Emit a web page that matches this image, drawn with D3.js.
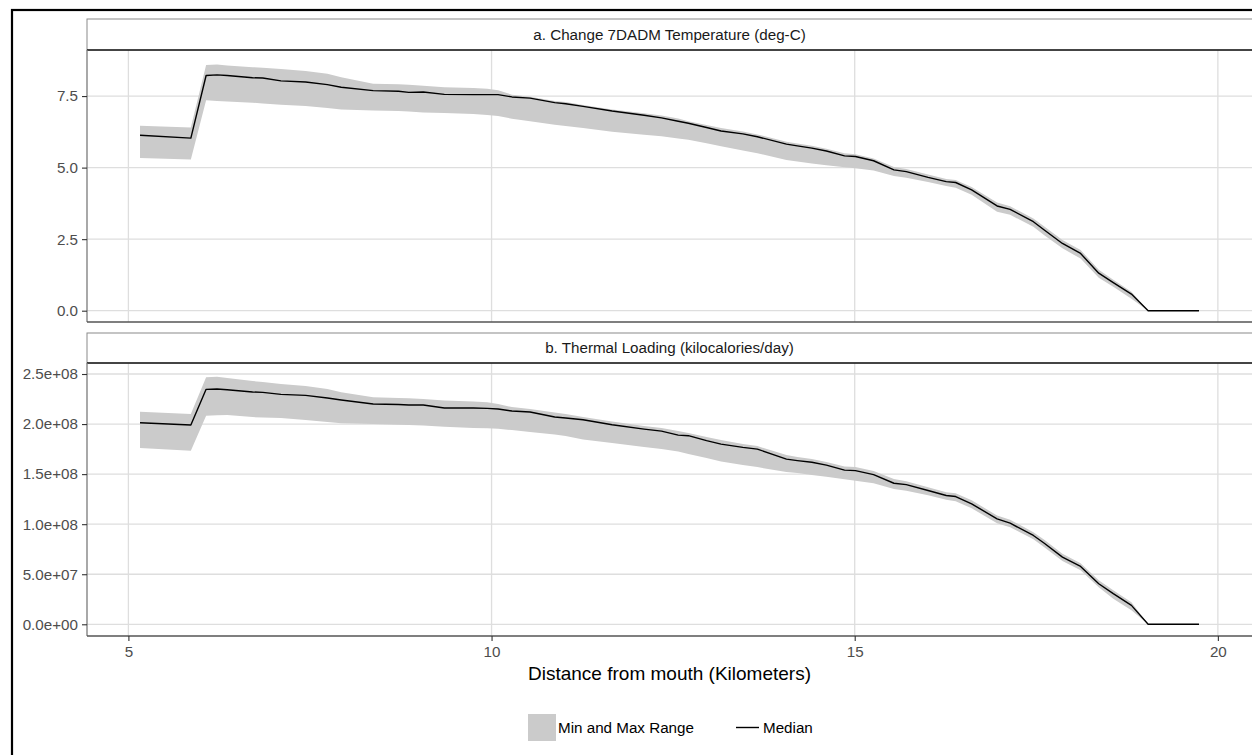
<!DOCTYPE html>
<html>
<head>
<meta charset="utf-8">
<script src="https://cdn.jsdelivr.net/npm/d3@7"></script>
<style>
  html, body { margin: 0; padding: 0; background: #fff; }
  svg { display: block; font-family: "Liberation Sans", Arial, sans-serif; }
</style>
</head>
<body>
<svg id="chart" width="1252" height="755"></svg>
<script>
// Distance from the river mouth (km) at each sampled reach
const distanceKm = [5.16, 5.86, 6.07, 6.22, 6.36, 6.71, 6.85, 7.10, 7.44, 7.74, 7.93, 8.37, 8.72, 8.86, 9.06, 9.35, 9.75, 9.94, 10.09, 10.28, 10.53, 10.87, 11.02, 11.26, 11.66, 12.10, 12.34, 12.57, 12.71, 12.96, 13.16, 13.46, 13.66, 14.06, 14.21, 14.41, 14.61, 14.86, 15.01, 15.26, 15.54, 15.71, 16.01, 16.26, 16.39, 16.61, 16.96, 17.14, 17.46, 17.61, 17.86, 18.11, 18.36, 18.56, 18.81, 19.04, 19.74];

// a. Change in 7DADM temperature (deg-C)
const tempMedian = [6.13, 6.03, 8.22, 8.24, 8.22, 8.14, 8.13, 8.03, 7.99, 7.90, 7.81, 7.69, 7.67, 7.63, 7.64, 7.56, 7.55, 7.55, 7.55, 7.47, 7.43, 7.27, 7.23, 7.14, 6.98, 6.83, 6.74, 6.62, 6.55, 6.40, 6.28, 6.18, 6.08, 5.82, 5.76, 5.68, 5.58, 5.41, 5.39, 5.24, 4.92, 4.86, 4.66, 4.51, 4.48, 4.22, 3.66, 3.54, 3.11, 2.82, 2.35, 2.00, 1.31, 0.98, 0.58, 0, 0];
const tempMax = [6.46, 6.40, 8.59, 8.60, 8.57, 8.51, 8.49, 8.45, 8.38, 8.28, 8.16, 7.93, 7.91, 7.90, 7.86, 7.81, 7.78, 7.76, 7.70, 7.55, 7.48, 7.33, 7.29, 7.19, 7.03, 6.90, 6.82, 6.72, 6.62, 6.49, 6.38, 6.26, 6.16, 5.90, 5.84, 5.76, 5.66, 5.50, 5.47, 5.32, 5.02, 4.95, 4.76, 4.60, 4.57, 4.32, 3.78, 3.65, 3.22, 2.94, 2.47, 2.12, 1.43, 1.08, 0.66, 0, 0];
const tempMin = [5.34, 5.28, 7.35, 7.33, 7.31, 7.27, 7.24, 7.20, 7.15, 7.08, 7.03, 7.00, 6.98, 6.96, 6.93, 6.91, 6.87, 6.84, 6.80, 6.71, 6.62, 6.50, 6.45, 6.38, 6.25, 6.15, 6.10, 6.02, 5.97, 5.85, 5.75, 5.60, 5.50, 5.27, 5.21, 5.14, 5.08, 5.01, 4.98, 4.90, 4.71, 4.65, 4.50, 4.36, 4.30, 4.05, 3.46, 3.35, 2.93, 2.64, 2.18, 1.82, 1.15, 0.84, 0.42, 0, 0];

// b. Thermal loading (kilocalories/day)
const loadMedian = [2.013e8, 1.99e8, 2.347e8, 2.35e8, 2.343e8, 2.32e8, 2.317e8, 2.297e8, 2.287e8, 2.26e8, 2.24e8, 2.20e8, 2.195e8, 2.19e8, 2.19e8, 2.16e8, 2.16e8, 2.157e8, 2.15e8, 2.13e8, 2.12e8, 2.07e8, 2.06e8, 2.043e8, 1.993e8, 1.95e8, 1.93e8, 1.89e8, 1.884e8, 1.834e8, 1.80e8, 1.767e8, 1.75e8, 1.65e8, 1.635e8, 1.618e8, 1.59e8, 1.54e8, 1.535e8, 1.495e8, 1.409e8, 1.395e8, 1.336e8, 1.286e8, 1.276e8, 1.203e8, 1.053e8, 1.01e8, 0.887e8, 0.81e8, 0.671e8, 0.578e8, 0.405e8, 0.306e8, 0.189e8, 0, 0];
const loadMax = [2.123e8, 2.10e8, 2.467e8, 2.473e8, 2.46e8, 2.43e8, 2.42e8, 2.40e8, 2.38e8, 2.35e8, 2.317e8, 2.267e8, 2.26e8, 2.257e8, 2.25e8, 2.235e8, 2.225e8, 2.217e8, 2.20e8, 2.17e8, 2.15e8, 2.115e8, 2.10e8, 2.07e8, 2.025e8, 1.98e8, 1.96e8, 1.93e8, 1.91e8, 1.87e8, 1.84e8, 1.80e8, 1.78e8, 1.69e8, 1.67e8, 1.65e8, 1.62e8, 1.575e8, 1.57e8, 1.53e8, 1.452e8, 1.43e8, 1.37e8, 1.32e8, 1.31e8, 1.24e8, 1.086e8, 1.045e8, 0.92e8, 0.845e8, 0.704e8, 0.61e8, 0.44e8, 0.339e8, 0.22e8, 0, 0];
const loadMin = [1.76e8, 1.733e8, 2.083e8, 2.088e8, 2.09e8, 2.07e8, 2.065e8, 2.06e8, 2.04e8, 2.02e8, 2.007e8, 2.00e8, 1.993e8, 1.99e8, 1.985e8, 1.973e8, 1.96e8, 1.957e8, 1.952e8, 1.94e8, 1.92e8, 1.895e8, 1.88e8, 1.847e8, 1.81e8, 1.77e8, 1.75e8, 1.727e8, 1.70e8, 1.66e8, 1.625e8, 1.59e8, 1.57e8, 1.52e8, 1.51e8, 1.49e8, 1.475e8, 1.45e8, 1.435e8, 1.41e8, 1.352e8, 1.335e8, 1.29e8, 1.243e8, 1.23e8, 1.16e8, 1.01e8, 0.97e8, 0.85e8, 0.77e8, 0.631e8, 0.54e8, 0.37e8, 0.256e8, 0.14e8, 0, 0];

// Axis limits and tick values
const xDomain = [4.43, 20.47];
const xTicks = [5, 10, 15, 20];
const tempDomain = [-0.395, 9.11];
const tempTicks = [0, 2.5, 5, 7.5];
const loadDomain = [-1.17e7, 2.61e8];
const loadTicks = [0, 5e7, 1e8, 1.5e8, 2e8, 2.5e8];

const stripTitles = ["a. Change 7DADM Temperature (deg-C)", "b. Thermal Loading (kilocalories/day)"];
const xTitle = "Distance from mouth (Kilometers)";
const legendLabels = ["Min and Max Range", "Median"];

// ---- drawing ----
const W = 1252, H = 755;
const left = 87, right = 1252;
const BAND = "#cbcbcb", GRID = "#dedede", TICKTXT = "#4d4d4d";
const FS = 15.2;

const svg = d3.select("#chart");
svg.append("rect").attr("width", W).attr("height", H).attr("fill", "#fff");

const x = d3.scaleLinear().domain(xDomain).range([left, right]);

// ggplot-style scientific label, e.g. 2.5e+08
function sci(v) {
  const s = v.toExponential(1);
  const [m, e] = s.split("e");
  const sign = e[0];
  const digits = e.slice(1).padStart(2, "0");
  return m + "e" + sign + digits;
}

const panels = [
  { title: stripTitles[0], stripTop: 19, top: 50, bottom: 322, domain: tempDomain, ticks: tempTicks,
    fmt: d3.format(".1f"), med: tempMedian, lo: tempMin, hi: tempMax, showX: false },
  { title: stripTitles[1], stripTop: 333, top: 363, bottom: 636, domain: loadDomain, ticks: loadTicks,
    fmt: sci, med: loadMedian, lo: loadMin, hi: loadMax, showX: true }
];

panels.forEach(p => {
  const g = svg.append("g");
  const y = d3.scaleLinear().domain(p.domain).range([p.bottom, p.top]);

  // grid
  g.append("g").selectAll("line").data(p.ticks).join("line")
    .attr("x1", left).attr("x2", right)
    .attr("y1", d => y(d)).attr("y2", d => y(d))
    .attr("stroke", GRID).attr("stroke-width", 1.3);
  g.append("g").selectAll("line").data(xTicks).join("line")
    .attr("x1", d => x(d)).attr("x2", d => x(d))
    .attr("y1", p.top).attr("y2", p.bottom)
    .attr("stroke", GRID).attr("stroke-width", 1.3);

  const rows = distanceKm.map((k, i) => ({ k, m: p.med[i], lo: p.lo[i], hi: p.hi[i] }));

  // min-max ribbon
  g.append("path").datum(rows)
    .attr("d", d3.area().x(d => x(d.k)).y0(d => y(d.lo)).y1(d => y(d.hi)))
    .attr("fill", BAND);

  // median line
  g.append("path").datum(rows)
    .attr("d", d3.line().x(d => x(d.k)).y(d => y(d.m)))
    .attr("fill", "none").attr("stroke", "#000").attr("stroke-width", 1.4)
    .attr("stroke-linejoin", "round");

  // strip
  g.append("rect").attr("x", left).attr("y", p.stripTop)
    .attr("width", right - left + 5).attr("height", p.top - p.stripTop)
    .attr("fill", "#fff").attr("stroke", "#8a8a8a").attr("stroke-width", 1);
  g.append("line").attr("x1", left).attr("x2", right + 5)
    .attr("y1", p.top).attr("y2", p.top).attr("stroke", "#1a1a1a").attr("stroke-width", 1.3);
  g.append("text").attr("x", (left + right) / 2).attr("y", (p.stripTop + p.top) / 2)
    .attr("dy", "0.35em").attr("text-anchor", "middle")
    .attr("font-size", FS).attr("fill", "#1a1a1a").text(p.title);

  // y axis
  const ya = d3.axisLeft(y).tickValues(p.ticks).tickFormat(p.fmt).tickSize(5).tickPadding(4);
  const yg = g.append("g").attr("transform", `translate(${left},0)`).call(ya);
  yg.select(".domain").attr("stroke", "#7a7a7a").attr("stroke-width", 1.3).attr("d", `M0,${p.top}V${p.bottom}`);
  yg.selectAll(".tick line").attr("stroke", "#333").attr("stroke-width", 1.1);
  yg.selectAll(".tick text").attr("fill", TICKTXT).attr("font-size", FS)
    .attr("font-family", "Liberation Sans, Arial, sans-serif");

  // bottom edge / x axis
  const xa = d3.axisBottom(x).tickValues(xTicks).tickSize(p.showX ? 5 : 0).tickPadding(5)
    .tickFormat(p.showX ? d3.format("d") : () => "");
  const xg = g.append("g").attr("transform", `translate(0,${p.bottom})`).call(xa);
  xg.select(".domain").attr("stroke", "#555").attr("stroke-width", 1.3).attr("d", `M${left},0H${right + 5}`);
  xg.selectAll(".tick line").attr("stroke", "#333").attr("stroke-width", 1.1);
  xg.selectAll(".tick text").attr("fill", TICKTXT).attr("font-size", FS)
    .attr("font-family", "Liberation Sans, Arial, sans-serif");
});

// x axis title
svg.append("text").attr("x", (left + right) / 2).attr("y", 673).attr("dy", "0.35em")
  .attr("text-anchor", "middle").attr("font-size", 19).attr("fill", "#000").text(xTitle);

// legend
const lg = svg.append("g");
lg.append("rect").attr("x", 528).attr("y", 714).attr("width", 28).attr("height", 27).attr("fill", BAND);
lg.append("text").attr("x", 558).attr("y", 727.5).attr("dy", "0.35em")
  .attr("font-size", FS).attr("fill", "#000").text(legendLabels[0]);
lg.append("line").attr("x1", 736).attr("x2", 759).attr("y1", 727.5).attr("y2", 727.5)
  .attr("stroke", "#000").attr("stroke-width", 1.4);
lg.append("text").attr("x", 763).attr("y", 727.5).attr("dy", "0.35em")
  .attr("font-size", FS).attr("fill", "#000").text(legendLabels[1]);

// outer frame
svg.append("rect").attr("x", 12).attr("y", 10).attr("width", W + 20).attr("height", H + 20)
  .attr("fill", "none").attr("stroke", "#000").attr("stroke-width", 2.2);
</script>
</body>
</html>
